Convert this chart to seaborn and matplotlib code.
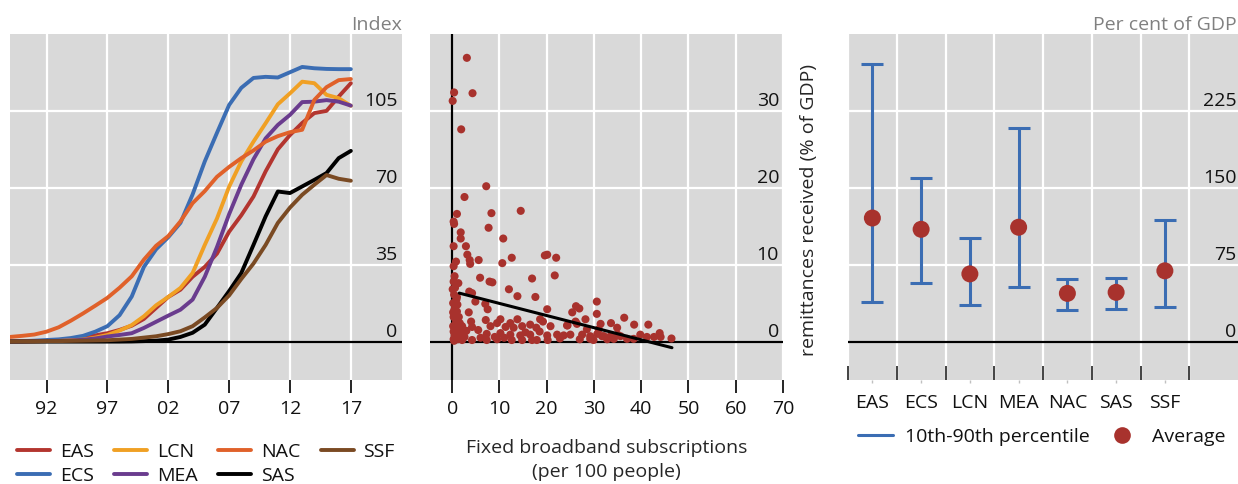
import matplotlib
matplotlib.use("Agg")
import matplotlib.pyplot as plt
import matplotlib.transforms as mtransforms
from matplotlib.lines import Line2D
import numpy as np
import pandas as pd
import seaborn as sns

# ---------------- data ----------------
years = list(range(1989, 2018))
region_codes = ["EAS", "ECS", "LCN", "MEA", "NAC", "SAS", "SSF"]

internet_eas = [0.1, 0.1, 0.2, 0.3, 0.5, 0.9, 1.7, 2.8, 3.8, 5.3, 7.2, 10.3, 15.3, 20.3, 23.6,
                29.5, 34.0, 40.0, 50.0, 57.5, 66.0, 77.5, 87.5, 94.0, 99.5, 104.0, 105.0, 111.5, 117.6]
internet_ecs = [0.1, 0.2, 0.4, 0.7, 1.0, 1.6, 2.6, 4.5, 7.0, 12.0, 20.5, 34.0, 42.0, 47.5, 54.0,
                67.0, 82.0, 95.0, 107.7, 115.5, 120.0, 120.5, 120.2, 122.6, 125.0, 124.4, 124.1, 124.0, 124.0]
internet_lcn = [0.1, 0.1, 0.1, 0.2, 0.3, 0.6, 0.9, 1.8, 3.0, 5.0, 7.5, 11.5, 16.5, 20.3, 24.4,
                31.2, 44.0, 56.0, 70.5, 82.0, 91.0, 99.4, 108.0, 113.0, 118.3, 117.6, 112.3, 110.8, 107.3]
internet_mea = [0.05, 0.1, 0.15, 0.2, 0.3, 0.5, 0.8, 1.4, 2.3, 3.0, 3.8, 6.2, 9.0, 11.8, 14.5,
                19.1, 29.5, 43.0, 58.0, 71.4, 83.0, 92.5, 98.6, 103.2, 109.0, 109.2, 109.9, 109.2, 107.4]
internet_nac = [2.1, 2.6, 3.2, 4.5, 6.5, 9.5, 12.8, 16.3, 19.9, 24.5, 29.7, 37.3, 43.6, 48.0, 54.7,
                63.0, 68.5, 75.0, 79.5, 83.5, 87.0, 91.0, 93.5, 95.3, 96.4, 110.0, 115.8, 119.0, 119.5]
internet_sas = [0.0, 0.0, 0.0, 0.0, 0.0, 0.0, 0.0, 0.0, 0.0, 0.0, 0.05, 0.2, 0.4, 0.9, 2.1,
                4.0, 7.7, 15.3, 23.0, 31.2, 44.0, 57.0, 68.3, 67.6, 70.6, 73.6, 76.7, 83.5, 86.8]
internet_ssf = [0.0, 0.1, 0.1, 0.2, 0.2, 0.3, 0.4, 0.5, 0.6, 0.9, 1.2, 1.8, 2.4, 3.4, 4.7,
                7.0, 11.0, 15.3, 21.0, 28.5, 35.5, 44.0, 54.0, 61.0, 66.8, 71.4, 75.8, 74.1, 73.2]

year_ticks = [1992, 1997, 2002, 2007, 2012, 2017]
year_labels = ["92", "97", "02", "07", "12", "17"]
index_ticks = [0, 35, 70, 105]

broadband = [3.1, 0.4, 4.3, 0.1, 1.9, 7.2, 2.6, 1.0, 8.3, 14.5, 0.3, 0.4, 7.7, 1.8, 1.8, 10.8, 0.3,
             2.9, 3.2, 3.7, 5.6, 12.6, 10.6, 3.8, 19.6, 20.1, 22.0, 0.8, 0.3, 21.7, 16.9, 5.9, 7.9,
             8.5, 0.5, 0.3, 1.3, 12.0, 3.6, 4.2, 0.4, 13.8, 17.6, 1.0, 4.9, 7.0, 20.1, 7.5, 0.6,
             1.0, 3.5, 26.2, 26.9, 25.4, 30.6, 30.6, 28.2, 13.8, 7.1, 4.0, 10.2, 12.3, 18.6, 19.2,
             26.4, 24.4, 31.4, 4.2, 8.1, 9.5, 11.3, 13.0, 14.8, 16.5, 17.8, 20.8, 0.8, 2.1, 0.3,
             2.4, 7.3, 10.2, 12.3, 14.4, 16.5, 20.1, 22.2, 23.6, 27.5, 29.2, 30.7, 32.1, 0.3, 2.1,
             4.2, 7.3, 12.6, 14.8, 16.9, 17.9, 20.2, 29.9, 33.5, 33.6, 36.4, 34.9, 38.5, 41.5,
             31.7, 34.2, 35.6, 37.0, 38.4, 39.8, 41.2, 42.7, 43.9, 44.1, 46.4, 32.8, 29.2, 26.1,
             24.3, 0.2, 0.5, 0.3, 0.8, 0.2, 1.2, 0.5, 1.5, 0.1, 0.6, 1.4, 1.8, 1.1, 0.9, 0.2, 0.7,
             1.6, 0.4, 1.2, 2.6, 3.0, 5.5, 6.0, 9.0, 11.0, 15.5, 18.5, 22.8, 25.0, 27.0, 28.5,
             35.0, 31.0, 9.5]
remittances = [36.9, 32.4, 32.3, 31.3, 27.6, 20.2, 18.8, 16.6, 16.7, 17.0, 15.6, 15.3, 14.8, 14.2,
               13.4, 13.4, 12.4, 12.4, 11.3, 10.6, 10.6, 10.9, 10.2, 10.1, 11.2, 11.3, 10.9, 10.4,
               9.8, 8.6, 8.2, 8.3, 7.8, 7.7, 8.5, 7.8, 7.6, 6.8, 6.5, 6.3, 6.1, 5.9, 5.8, 5.8, 5.2,
               4.9, 4.2, 4.2, 4.6, 3.9, 3.8, 4.6, 4.3, 3.8, 5.2, 3.6, 2.9, 2.9, 2.8, 2.6, 2.9, 2.4,
               2.9, 2.6, 2.3, 2.1, 2.3, 1.9, 2.0, 2.4, 1.9, 1.8, 2.0, 2.2, 1.8, 2.0, 2.4, 2.0, 1.3,
               1.1, 1.0, 1.1, 0.9, 0.8, 0.9, 0.8, 0.9, 0.8, 0.9, 0.7, 1.0, 0.7, 0.3, 0.2, 0.2, 0.2,
               0.2, 0.2, 0.2, 0.2, 0.2, 0.2, 0.7, 2.4, 3.1, 1.8, 2.2, 2.2, 0.7, 0.35, 0.7, 0.35,
               0.35, 0.9, 0.6, 0.6, 1.1, 0.6, 0.4, 0.3, 0.35, 2.6, 2.1, 5.0, 4.2, 3.2, 2.8, 2.0,
               1.5, 0.8, 0.5, 6.8, 7.0, 3.2, 1.0, 4.8, 5.5, 3.8, 1.8, 2.4, 0.1, 0.3, 0.6, 1.4, 1.5,
               0.5, 0.6, 0.5, 1.2, 1.3, 0.4, 0.9, 0.3, 1.6, 0.9, 1.6, 0.3]
trend_x = [1.5, 46.5]
trend_y = [6.3, -0.8]
broadband_ticks = [0, 10, 20, 30, 40, 50, 60, 70]
remit_ticks = [0, 10, 20, 30]

p10 = [39.0, 57.5, 36.0, 53.6, 31.0, 32.0, 34.0]
p90 = [271.0, 160.0, 101.0, 208.0, 61.0, 62.0, 119.0]
average = [120.5, 109.5, 66.0, 111.5, 47.0, 48.0, 69.0]
gdp_ticks = [0, 75, 150, 225]

# ---------------- style ----------------
RED = "#a8322d"
BLUE = "#3b6db3"
palette = {"EAS": "#b3352f", "ECS": "#3b6db3", "LCN": "#f0a024", "MEA": "#6a3c8e",
           "NAC": "#e0612a", "SAS": "#000000", "SSF": "#7a4a23"}

sns.set_theme(style="darkgrid", rc={
    "axes.facecolor": "#d9d9d9",
    "grid.color": "white",
    "grid.linewidth": 1.6,
})
plt.rcParams["font.family"] = ["Open Sans", "DejaVu Sans"]
plt.rcParams["font.size"] = 14
plt.rcParams["text.color"] = "#111111"
plt.rcParams["xtick.color"] = "black"
plt.rcParams["xtick.labelcolor"] = "#111111"

W, H = 1238, 484
fig = plt.figure(figsize=(W / 100, H / 100), dpi=100)


def pixel_axes(x0, x1, y0, y1):
    return fig.add_axes([x0 / W, 1 - y1 / H, (x1 - x0) / W, (y1 - y0) / H])


axL = pixel_axes(10, 402, 34, 380)
axM = pixel_axes(430, 783, 34, 380)
axR = pixel_axes(848, 1238, 34, 380)

for ax in (axL, axM, axR):
    for s in ax.spines.values():
        s.set_visible(False)


def right_labels(ax, ticks, xpos):
    trans = mtransforms.blended_transform_factory(ax.transAxes, ax.transData)
    off = mtransforms.offset_copy(trans, fig=fig, x=0, y=1, units="dots")
    for t in ticks:
        ax.text(xpos, t, f"{t}", transform=off, ha="right", va="bottom",
                fontsize=14, color="#111111")


# ---------------- left: internet users index ----------------
series = {"EAS": internet_eas, "ECS": internet_ecs, "LCN": internet_lcn, "MEA": internet_mea,
          "NAC": internet_nac, "SAS": internet_sas, "SSF": internet_ssf}
long_df = pd.DataFrame({
    "year": years * len(region_codes),
    "region": [r for r in region_codes for _ in years],
    "value": [v for r in region_codes for v in series[r]],
})
sns.lineplot(data=long_df, x="year", y="value", hue="region", hue_order=region_codes,
             palette=palette, linewidth=2.8, ax=axL)
axL.axhline(0, color="black", lw=1.6, zorder=1.5)
axL.set_xlim(1989, 2021.2)
axL.set_ylim(-17.5, 140)
axL.set_xticks(year_ticks)
axL.set_xticklabels(year_labels)
axL.set_yticks(index_ticks)
axL.set_yticklabels([])
axL.set_xlabel("")
axL.set_ylabel("")
axL.tick_params(axis="x", bottom=True, direction="out", length=9.5, width=1.2,
                pad=5, labelsize=14)
axL.tick_params(axis="y", left=False, length=0)
right_labels(axL, index_ticks, 0.989)
axL.text(1.0, 1.0, "Index", transform=axL.transAxes, ha="right", va="bottom",
         fontsize=14, color="#808080")

handles, labels = axL.get_legend_handles_labels()
axL.get_legend().remove()
fig.legend(handles, labels, ncol=4, loc="upper left",
           bbox_to_anchor=(17 / W, 1 - 443 / H), frameon=False, fontsize=14,
           handlelength=1.7, handletextpad=0.5, columnspacing=1.05,
           labelspacing=0.3, borderpad=0, borderaxespad=0)

# ---------------- middle: broadband vs remittances ----------------
sns.scatterplot(x=broadband, y=remittances, color=RED, s=34, edgecolor="none",
                linewidth=0, ax=axM, zorder=3)
sns.lineplot(x=trend_x, y=trend_y, color="black", linewidth=2.2, ax=axM, zorder=4)
axM.axhline(0, color="black", lw=1.6, zorder=1.5)
axM.axvline(0, color="black", lw=1.6, zorder=1.5)
axM.set_xlim(-4.7, 70)
axM.set_ylim(-5, 40)
axM.set_xticks(broadband_ticks)
axM.set_yticks(remit_ticks)
axM.set_yticklabels([])
axM.tick_params(axis="x", bottom=True, direction="out", length=9.5, width=1.2,
                pad=5, labelsize=14)
axM.tick_params(axis="y", left=False, length=0)
axM.set_xlabel("Fixed broadband subscriptions\n(per 100 people)", fontsize=14,
               labelpad=15, linespacing=1.45)
right_labels(axM, remit_ticks, 0.9887)

# ---------------- right: remittances by region ----------------
xpos = np.arange(len(region_codes))
low_err = [a - lo for a, lo in zip(average, p10)]
high_err = [hi - a for a, hi in zip(average, p90)]
axR.errorbar(xpos, average, yerr=[low_err, high_err], fmt="none", ecolor=BLUE,
             elinewidth=2.2, capsize=8, capthick=2.2, zorder=3)
sns.scatterplot(x=xpos, y=average, color=RED, s=150, edgecolor="none", linewidth=0,
                ax=axR, zorder=4)
axR.axhline(0, color="black", lw=1.6, zorder=1.5)
axR.set_xlim(-0.5, 7.5)
axR.set_ylim(-37.5, 300)
axR.set_xticks(xpos)
axR.set_xticklabels(region_codes)
axR.set_xticks(np.arange(-0.5, 7.0, 1.0), minor=True)
axR.grid(False, axis="x", which="major")
axR.grid(True, axis="x", which="minor", color="white", linewidth=1.6)
axR.set_yticks(gdp_ticks)
axR.set_yticklabels([])
axR.tick_params(axis="x", which="major", bottom=True, direction="out", length=2,
                width=1, color="#c0c0c0", pad=8, labelsize=14)
axR.tick_params(axis="x", which="minor", bottom=True, direction="in", length=10,
                width=1.2, color="#222222")
axR.tick_params(axis="y", left=False, length=0)
axR.set_ylabel("remittances received (% of GDP)", fontsize=14)
axR.yaxis.set_label_coords(-0.101, 0.49)
axR.yaxis.label.set_verticalalignment("center")
right_labels(axR, gdp_ticks, 0.996)
axR.text(0.996, 1.0, "Per cent of GDP", transform=axR.transAxes, ha="right",
         va="bottom", fontsize=14, color="#808080")

legend_handles = [Line2D([], [], color=BLUE, lw=2.2),
                  Line2D([], [], marker="o", ls="none", color=RED, markersize=12,
                         markeredgewidth=0)]
fig.legend(legend_handles, ["10th-90th percentile", "Average"], ncol=2, loc="upper left",
           bbox_to_anchor=(858 / W, 1 - 428 / H), frameon=False, fontsize=14,
           handlelength=1.8, handletextpad=0.6, columnspacing=0.8,
           borderpad=0, borderaxespad=0)

fig.savefig("out.png", dpi=100)
